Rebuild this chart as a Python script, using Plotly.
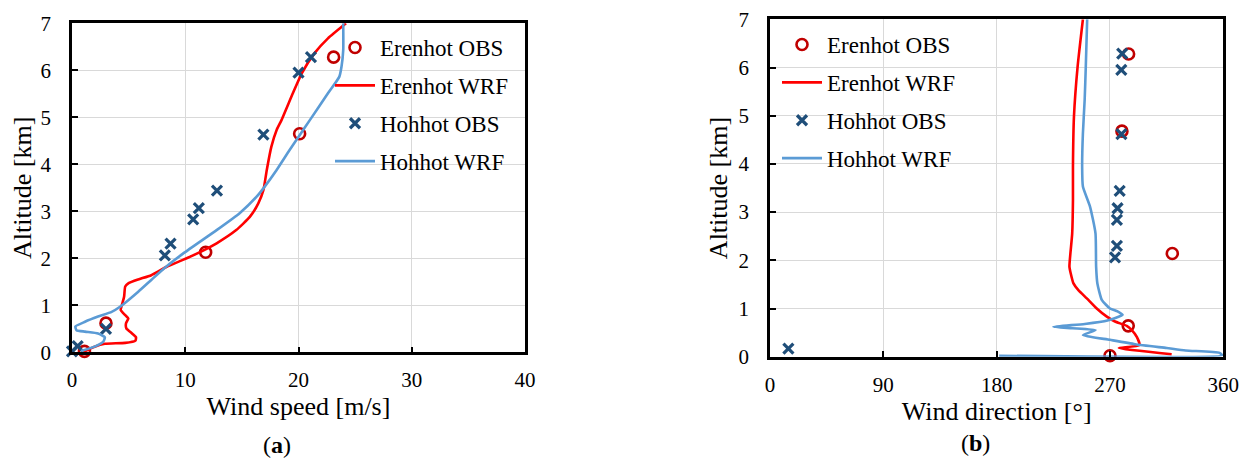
import plotly.graph_objects as go

# ---------------- data ----------------
# Panel (a): wind speed profiles
ws_er_obs_x = [1.1, 3.0, 11.8, 20.1, 23.1]
ws_er_obs_y = [0.02, 0.62, 2.13, 4.65, 6.28]

ws_ho_obs_x = [0.0, 0.5, 3.0, 8.2, 8.7, 10.7, 11.2, 12.8, 16.9, 20.0, 21.1]
ws_ho_obs_y = [0.02, 0.13, 0.50, 2.06, 2.31, 2.83, 3.07, 3.44, 4.63, 5.95, 6.28]

ws_er_wrf_x = [1.0, 2.0, 2.9, 4.7, 5.6, 5.65, 5.3, 4.8, 4.77, 4.97, 4.7, 4.3, 4.4, 4.6,
               4.7, 5.0, 5.85, 7.0, 8.36, 10.4, 12.77, 14.5, 15.7, 16.45, 16.9, 17.2,
               17.6, 18.07, 18.5, 19.5, 20.3, 21.4, 22.6, 24.2]
ws_er_wrf_y = [0.01, 0.12, 0.18, 0.20, 0.25, 0.32, 0.40, 0.51, 0.62, 0.72, 0.79, 0.90, 1.00, 1.18,
               1.40, 1.47, 1.55, 1.64, 1.82, 2.03, 2.32, 2.60, 2.88, 3.17, 3.45, 3.88,
               4.37, 4.73, 4.94, 5.51, 5.94, 6.36, 6.68, 7.00]

ws_ho_wrf_x = [0.8, 2.0, 2.77, 2.9, 2.3, 1.15, 0.4, 0.3, 1.15, 2.3, 3.5, 4.24, 4.97, 5.85,
               7.0, 8.2, 9.8, 12.77, 14.8, 16.3, 17.0, 18.07, 19.2, 20.1, 21.0, 22.6,
               23.6, 23.8, 23.95, 23.95]
ws_ho_wrf_y = [0.03, 0.12, 0.23, 0.32, 0.40, 0.44, 0.47, 0.55, 0.65, 0.76, 0.86, 0.97, 1.11, 1.29,
               1.54, 1.80, 2.10, 2.60, 2.96, 3.31, 3.52, 3.88, 4.30, 4.62, 4.94, 5.51,
               5.86, 6.08, 6.43, 7.00]

# Panel (b): wind direction profiles
wd_er_obs_x = [270, 284.5, 319.5, 279.5, 284.8]
wd_er_obs_y = [0.02, 0.64, 2.14, 4.68, 6.28]

wd_ho_obs_x = [14.6, 274, 275.5, 275.5, 276, 277.7, 279.1, 279, 279.7]
wd_ho_obs_y = [0.17, 2.06, 2.30, 2.84, 3.08, 3.44, 4.62, 5.95, 6.29]

wd_er_wrf_x = [319, 277, 293.4, 291.3, 287.3, 283.3, 274, 267.5, 259.5, 251.6, 244.9, 241,
               238.8, 237.8, 240, 240.6, 240.6, 241.4, 244.3, 248.5]
wd_er_wrf_y = [0.05, 0.18, 0.24, 0.41, 0.55, 0.64, 0.73, 0.83, 1.00, 1.21, 1.38, 1.52,
               1.73, 1.87, 2.56, 3.25, 3.94, 4.98, 6.02, 7.00]

wd_ho_wrf_x = [182, 359, 357, 330, 315, 290, 270, 248.6, 258.5, 240, 225, 250, 268, 280,
               276, 270, 263.5, 260, 259, 258.5, 254.2, 248.5, 247.9, 248.5, 249.9, 250.8, 251.9]
wd_ho_wrf_y = [0.02, 0.03, 0.08, 0.13, 0.18, 0.26, 0.35, 0.45, 0.55, 0.59, 0.62, 0.68, 0.75, 0.87,
               0.94, 1.00, 1.18, 1.52, 1.87, 2.56, 3.11, 3.53, 3.94, 4.63, 5.33, 6.02, 7.00]

alt_ticks = [0, 1, 2, 3, 4, 5, 6, 7]
speed_ticks = [0, 10, 20, 30, 40]
dir_ticks = [0, 90, 180, 270, 360]

names = ["Erenhot OBS", "Erenhot WRF", "Hohhot OBS", "Hohhot WRF"]
x_titles = ["Wind speed [m/s]", "Wind direction [°]"]
y_title = "Altitude [km]"
panel_labels = ["(<b>a</b>)", "(<b>b</b>)"]

# ---------------- style ----------------
FONT = "Liberation Serif, Times New Roman, serif"
RED_LINE = "#FF0000"
BLUE_LINE = "#5B9BD5"
RED_MK = "#C00000"
BLUE_MK = "#1F4E79"
OFF = 8                      # default page body margin
W, H = 1250 - OFF, 459 - OFF

fig = go.Figure()


def add_panel(xa, ya, legend, er_obs, er_wrf, ho_obs, ho_wrf):
    common = dict(xaxis=xa, yaxis=ya, legend=legend)
    fig.add_trace(go.Scatter(x=er_obs[0], y=er_obs[1], mode="markers", name=names[0],
                             legendgroup=legend + "1", cliponaxis=False,
                             marker=dict(symbol="circle-open", size=11, color=RED_MK,
                                         line=dict(width=2.6, color=RED_MK)), **common))
    fig.add_trace(go.Scatter(x=er_wrf[0], y=er_wrf[1], mode="lines", name=names[1],
                             legendgroup=legend + "2",
                             line=dict(color=RED_LINE, width=2.6, shape="spline", smoothing=0.5),
                             **common))
    fig.add_trace(go.Scatter(x=ho_obs[0], y=ho_obs[1], mode="markers", name=names[2],
                             legendgroup=legend + "3", cliponaxis=False,
                             marker=dict(symbol="x-thin-open", size=10, color=BLUE_MK,
                                         line=dict(width=3.2, color=BLUE_MK)), **common))
    fig.add_trace(go.Scatter(x=ho_wrf[0], y=ho_wrf[1], mode="lines", name=names[3],
                             legendgroup=legend + "4",
                             line=dict(color=BLUE_LINE, width=2.6, shape="spline", smoothing=0.5),
                             **common))


add_panel("x", "y", "legend",
          (ws_er_obs_x, ws_er_obs_y), (ws_er_wrf_x, ws_er_wrf_y),
          (ws_ho_obs_x, ws_ho_obs_y), (ws_ho_wrf_x, ws_ho_wrf_y))
add_panel("x2", "y2", "legend2",
          (wd_er_obs_x, wd_er_obs_y), (wd_er_wrf_x, wd_er_wrf_y),
          (wd_ho_obs_x, wd_ho_obs_y), (wd_ho_wrf_x, wd_ho_wrf_y))

axis_common = dict(showline=True, linecolor="black", linewidth=2.5, mirror=True,
                   ticks="inside", ticklen=6, tickwidth=2.2, tickcolor="black",
                   showgrid=True, gridcolor="#D9D9D9", gridwidth=1, zeroline=False,
                   tickfont=dict(family=FONT, size=21, color="black"),
                   tickmode="array", ticklabeloverflow="allow",
                   automargin=False, layer="above traces")


def px_x(p):
    # p: pixel position in the 1250x459 window
    return (p - OFF) / W


def px_y(p):
    return 1 - (p - OFF) / H


fig.update_layout(
    width=W, height=H, autosize=False,
    margin=dict(l=0, r=0, t=0, b=0),
    paper_bgcolor="white", plot_bgcolor="white",
    font=dict(family=FONT, color="black"),
    xaxis=dict(domain=[px_x(72), px_x(525)], range=[0, 40], tickvals=speed_ticks, anchor="y",
               ticklabelstandoff=7,
               title=dict(text=x_titles[0], font=dict(family=FONT, size=26), standoff=0),
               **axis_common),
    yaxis=dict(domain=[px_y(352.3), px_y(23.3)], range=[0, 7.0001], tickvals=alt_ticks, anchor="x",
               ticklabelstandoff=14,
               title=dict(text=y_title, font=dict(family=FONT, size=26), standoff=4),
               **axis_common),
    xaxis2=dict(domain=[px_x(770), px_x(1223.3)], range=[0, 360], tickvals=dir_ticks, anchor="y2",
                ticklabelstandoff=7,
                title=dict(text=x_titles[1], font=dict(family=FONT, size=26), standoff=0),
                **axis_common),
    yaxis2=dict(domain=[px_y(356.7), px_y(19.3)], range=[0, 7.0001], tickvals=alt_ticks, anchor="x2",
                ticklabelstandoff=14,
                title=dict(text=y_title, font=dict(family=FONT, size=26), standoff=4),
                **axis_common),
    legend=dict(x=px_x(330), y=px_y(26), xanchor="left", yanchor="top",
                bgcolor="rgba(0,0,0,0)", borderwidth=0, itemwidth=40,
                tracegroupgap=5, traceorder="grouped",
                font=dict(family=FONT, size=23, color="black")),
    legend2=dict(x=px_x(777), y=px_y(23), xanchor="left", yanchor="top",
                 bgcolor="rgba(0,0,0,0)", borderwidth=0, itemwidth=40,
                 tracegroupgap=5, traceorder="grouped",
                 font=dict(family=FONT, size=23, color="black")),
    annotations=[
        dict(text=panel_labels[0], x=px_x(277), y=px_y(445), xref="paper", yref="paper",
             showarrow=False, font=dict(family=FONT, size=24, color="black"),
             xanchor="center", yanchor="middle"),
        dict(text=panel_labels[1], x=px_x(975), y=px_y(443), xref="paper", yref="paper",
             showarrow=False, font=dict(family=FONT, size=24, color="black"),
             xanchor="center", yanchor="middle"),
    ],
)

fig.write_html("out.html")
